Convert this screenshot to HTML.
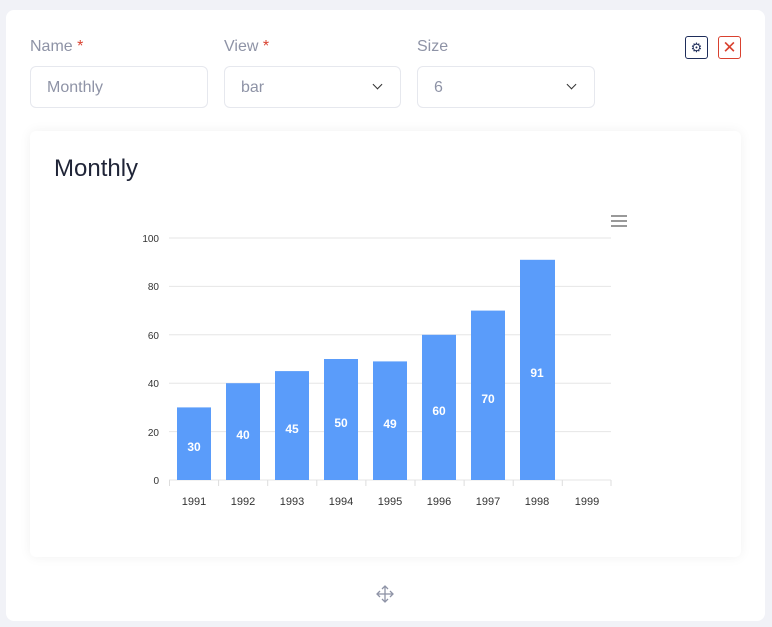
<!DOCTYPE html>
<html><head><style>
body{margin:0;width:772px;height:627px;background:#f1f2f7;font-family:"Liberation Sans",sans-serif;position:relative;overflow:hidden}
.outer{position:absolute;left:6px;top:10px;width:759px;height:611px;background:#fff;border-radius:8px}
.lbl{position:absolute;top:38px;font-size:16px;color:#8e93a6}
.lbl b{color:#d9412f;font-weight:normal}
.inp{position:absolute;top:66px;height:42px;border:1px solid #e6e8ee;border-radius:6px;box-sizing:border-box;font-size:16px;color:#8e93a6;padding:12px 16px}
.chev{position:absolute;right:19px;top:14px;width:6px;height:6px;border-right:1.5px solid #333;border-bottom:1.5px solid #333;transform:rotate(45deg)}
.inner{position:absolute;left:30px;top:131px;width:711px;height:426px;background:#fff;border-radius:6px;box-shadow:0 0 12px rgba(0,0,0,0.06)}
</style></head><body>
<div class="outer"></div>
<div class="lbl" style="left:30px">Name <b>*</b></div>
<div class="lbl" style="left:224px">View <b>*</b></div>
<div class="lbl" style="left:417px">Size</div>
<div class="inp" style="left:30px;width:178px">Monthly</div>
<div class="inp" style="left:224px;width:177px">bar<span class="chev"></span></div>
<div class="inp" style="left:417px;width:178px">6<span class="chev"></span></div>
<div style="position:absolute;left:685px;top:36px;width:23px;height:23px;border:1px solid #1e2d5a;border-radius:3px;box-sizing:border-box;color:#1e2d5a;font-size:13px;text-align:center;line-height:21px">⚙</div>
<div style="position:absolute;left:718px;top:36px;width:23px;height:23px;border:1px solid #d9412f;border-radius:3px;box-sizing:border-box;color:#d9412f;font-size:17px;text-align:center;line-height:21px">✕</div>
<div class="inner"></div>
<div style="position:absolute;left:54px;top:155px;font-size:24px;color:#1f2437">Monthly</div>
<svg style="position:absolute;left:0;top:0" width="772" height="627">
<g stroke="#e6e6e6" stroke-width="1">
<line x1="169" x2="611" y1="238" y2="238"/><line x1="169" x2="611" y1="286.4" y2="286.4"/>
<line x1="169" x2="611" y1="334.8" y2="334.8"/><line x1="169" x2="611" y1="383.2" y2="383.2"/>
<line x1="169" x2="611" y1="431.6" y2="431.6"/><line x1="169" x2="611" y1="480" y2="480"/>
</g>
<g stroke="#ddd"><line x1="169.5" x2="169.5" y1="480" y2="486"/><line x1="218.6" x2="218.6" y1="480" y2="486"/><line x1="267.7" x2="267.7" y1="480" y2="486"/><line x1="316.8" x2="316.8" y1="480" y2="486"/><line x1="365.9" x2="365.9" y1="480" y2="486"/><line x1="415" x2="415" y1="480" y2="486"/><line x1="464.1" x2="464.1" y1="480" y2="486"/><line x1="513.2" x2="513.2" y1="480" y2="486"/><line x1="562.3" x2="562.3" y1="480" y2="486"/><line x1="611" x2="611" y1="480" y2="486"/></g>
<g font-size="10" fill="#333" text-anchor="end"><text x="159" y="242">100</text><text x="159" y="290">80</text><text x="159" y="339">60</text><text x="159" y="387">40</text><text x="159" y="436">20</text><text x="159" y="484">0</text></g>
<g fill="#5a9cfa">
<rect x="177" y="407.4" width="34" height="72.6"/><rect x="226" y="383.2" width="34" height="96.8"/>
<rect x="275" y="371.1" width="34" height="108.9"/><rect x="324" y="359" width="34" height="121"/>
<rect x="373" y="361.4" width="34" height="118.6"/><rect x="422" y="334.8" width="34" height="145.2"/>
<rect x="471" y="310.6" width="34" height="169.4"/><rect x="520" y="259.8" width="35" height="220.2"/>
</g>
<g font-size="12" font-weight="bold" fill="#fff" text-anchor="middle">
<text x="194" y="451">30</text><text x="243" y="439">40</text><text x="292" y="433">45</text><text x="341" y="427">50</text><text x="390" y="428">49</text><text x="439" y="415">60</text><text x="488" y="403">70</text><text x="537" y="377">91</text>
</g>
<g font-size="11" fill="#333" text-anchor="middle">
<text x="194" y="505">1991</text><text x="243" y="505">1992</text><text x="292" y="505">1993</text><text x="341" y="505">1994</text><text x="390" y="505">1995</text><text x="439" y="505">1996</text><text x="488" y="505">1997</text><text x="537" y="505">1998</text><text x="587" y="505">1999</text>
</g>
<g stroke="#777" stroke-width="1.5"><line x1="611" x2="627" y1="216" y2="216"/><line x1="611" x2="627" y1="221" y2="221"/><line x1="611" x2="627" y1="226" y2="226"/></g>
<g stroke="#8e93a6" stroke-width="1.3" fill="none"><line x1="385" x2="385" y1="586" y2="601"/><line x1="377" x2="393" y1="594" y2="594"/><path d="M382 589l3-3 3 3M382 599l3 3 3-3M380 591l-3 3 3 3M390 591l3 3-3 3"/></g>
</svg>
</body></html>
